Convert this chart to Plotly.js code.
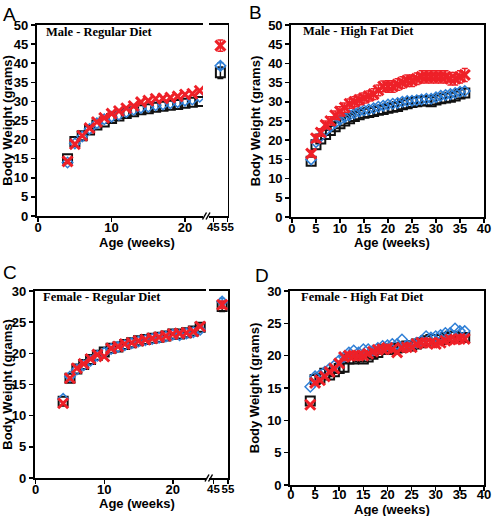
<!DOCTYPE html>
<html>
<head>
<meta charset="utf-8">
<script src="https://cdn.plot.ly/plotly-3.0.1.min.js"></script>
<style>html,body{margin:0;padding:0;background:#fff;}#chart{width:494px;height:516px;}</style>
</head>
<body>
<div id="chart"></div>
<script>
// ---------- DATA ----------
// Panel A: Male - Regular Diet (weeks 4-22, plus one late point)
const weeksA = [4,5,6,7,8,9,10,11,12,13,14,15,16,17,18,19,20,21,22];
const blackA = [15.0,19.5,21.0,22.5,23.8,24.6,25.5,26.2,26.8,27.3,27.8,28.1,28.5,28.7,29.0,29.2,29.5,29.8,30.0];
const blueA  = [14.0,19.0,20.8,22.8,24.3,25.3,26.0,26.5,27.2,27.8,28.3,28.6,29.0,29.2,29.5,29.8,30.2,30.5,31.2];
const redA   = [14.3,18.8,21.0,23.0,24.6,25.7,26.8,27.5,28.2,28.8,29.8,30.2,30.7,30.8,31.0,31.3,31.8,32.0,32.8];
const lateWeekA = [50];
const lateBlackA = [37.5], lateBlackErrA = [1.5];
const lateBlueA  = [39.3], lateBlueErrA  = [0.8];
const lateRedA   = [44.6], lateRedErrA   = [1.5];

// Panel B: Male - High Fat Diet (weeks 4-36)
const weeksB = [4,5,6,7,8,9,10,11,12,13,14,15,16,17,18,19,20,21,22,23,24,25,26,27,28,29,30,31,32,33,34,35,36];
const blackB = [14.5,18.8,20.3,21.5,22.5,23.5,24.3,25.0,25.6,26.2,26.6,27.0,27.2,27.5,27.8,28.0,28.3,28.6,28.8,29.2,29.5,29.8,30.0,30.2,30.3,30.0,30.5,30.8,31.0,31.2,31.5,32.0,32.3];
const blueB  = [15.0,19.5,21.0,22.5,23.5,24.5,25.3,26.0,26.5,27.0,27.5,27.8,28.0,28.3,28.7,29.0,29.3,29.5,29.7,30.0,30.2,30.3,30.4,30.6,30.8,30.8,31.2,31.6,31.8,32.0,32.3,32.6,32.8];
const redB   = [16.5,20.5,22.0,24.0,25.0,26.5,27.5,28.5,29.5,30.0,30.5,31.0,31.5,32.0,33.0,34.0,34.0,34.0,34.5,35.0,35.5,35.5,36.0,36.5,36.5,36.5,36.5,36.5,36.5,36.0,36.0,36.5,37.0];
const redErrB = [0.8,1.0,1.0,1.0,1.1,1.1,1.2,1.2,1.2,1.3,1.3,1.3,1.3,1.4,1.4,1.4,1.5,1.5,1.5,1.5,1.5,1.5,1.5,1.6,1.6,1.6,1.6,1.6,1.6,1.6,1.6,1.6,1.7];

// Panel C: Female - Regular Diet (weeks 4-24, plus one late point)
const weeksC = [4,5,6,7,8,9,10,11,12,13,14,15,16,17,18,19,20,21,22,23,24];
const blackC = [12.3,16.0,17.5,18.2,19.0,19.7,20.2,20.8,21.0,21.4,21.7,22.0,22.2,22.4,22.6,22.8,23.1,23.1,23.3,23.6,24.2];
const blueC  = [12.7,16.3,17.4,18.1,18.8,19.6,20.1,20.7,21.0,21.3,21.6,21.9,22.1,22.3,22.5,22.7,23.0,22.9,23.2,23.4,23.8];
const redC   = [12.0,16.0,17.6,18.3,19.1,19.8,19.5,20.8,21.1,21.5,21.7,22.0,22.2,22.4,22.6,22.8,23.1,23.2,23.3,23.5,24.3];
const lateWeekC = [51];
const lateBlackC = [27.5], lateBlackErrC = [0.8];
const lateBlueC  = [28.3], lateBlueErrC  = [0.5];
const lateRedC   = [27.8], lateRedErrC   = [0.6];

// Panel D: Female - High Fat Diet (weeks 4-36)
const weeksD = [4,5,6,7,8,9,10,11,12,13,14,15,16,17,18,19,20,21,22,23,24,25,26,27,28,29,30,31,32,33,34,35,36];
const blackD = [13.0,16.3,16.5,17.3,17.0,17.5,18.0,18.2,19.5,19.5,19.8,19.5,19.8,20.2,20.5,21.0,21.0,21.0,21.2,21.3,21.5,21.5,21.8,22.0,22.3,22.5,22.5,22.5,22.8,23.0,23.0,22.8,22.8];
const blueD  = [15.2,16.8,17.0,17.5,18.0,18.5,19.3,19.8,20.5,20.8,20.5,21.0,21.0,20.8,21.2,21.5,21.6,21.8,21.8,22.5,21.6,21.7,22.0,22.3,23.0,22.8,23.0,23.2,23.5,23.5,24.2,23.8,23.8];
const redD   = [12.4,15.8,16.2,16.8,17.5,18.0,18.8,19.8,20.0,20.0,20.0,20.0,20.3,20.6,20.9,21.0,21.2,21.0,20.5,21.2,21.3,21.3,21.8,22.0,22.0,22.0,21.8,22.0,22.3,22.5,22.5,22.6,22.6];

// Tick labels / titles
const panelLetters = ['A','B','C','D'];
const panelTitles = ['Male - Regular Diet','Male - High Fat Diet','Female - Regular Diet','Female - High Fat Diet'];
const xTitle = 'Age (weeks)';
const yTitle = 'Body Weight (grams)';
const xTicksRegular = [0,10,20];
const xTicksLate = [45,55];

// ---------- STYLES ----------
const W = 494, H = 516;
const px = v => v / W;
const py = v => 1 - v / H;
const BLACK = '#111111', BLUE = '#2f7fd6', RED = '#ee2028';
const SANS = 'Arial, "Liberation Sans", sans-serif';
const SERIF = '"Times New Roman", "Liberation Serif", serif';

function tr(x, y, xa, ya, kind, err) {
  const st = {
    black: {symbol:'square-open', size:9, color:BLACK, lw:2},
    blue:  {symbol:'diamond-open', size:8, color:BLUE, lw:1.5},
    red:   {symbol:'x-thin-open', size:10, color:RED, lw:3}
  }[kind];
  const t = {
    type:'scatter', mode:'markers', x:x, y:y, xaxis:xa, yaxis:ya, showlegend:false,
    hoverinfo:'skip',
    marker:{symbol:st.symbol, size:st.size, color:st.color, line:{color:st.color, width:st.lw}}
  };
  if (err) t.error_y = {type:'data', array:err, visible:true, color:st.color, thickness:1.5, width:3};
  return t;
}

const traces = [
  tr(weeksA, blackA, 'x', 'y', 'black'),
  tr(weeksA, blueA, 'x', 'y', 'blue'),
  tr(weeksA, redA, 'x', 'y', 'red'),
  tr(lateWeekA, lateBlackA, 'x2', 'y2', 'black', lateBlackErrA),
  tr(lateWeekA, lateBlueA, 'x2', 'y2', 'blue', lateBlueErrA),
  tr(lateWeekA, lateRedA, 'x2', 'y2', 'red', lateRedErrA),

  tr(weeksB, blackB, 'x3', 'y3', 'black'),
  tr(weeksB, blueB, 'x3', 'y3', 'blue'),
  tr(weeksB, redB, 'x3', 'y3', 'red', redErrB),

  tr(weeksC, blackC, 'x4', 'y4', 'black'),
  tr(weeksC, blueC, 'x4', 'y4', 'blue'),
  tr(weeksC, redC, 'x4', 'y4', 'red'),
  tr(lateWeekC, lateBlackC, 'x5', 'y5', 'black', lateBlackErrC),
  tr(lateWeekC, lateBlueC, 'x5', 'y5', 'blue', lateBlueErrC),
  tr(lateWeekC, lateRedC, 'x5', 'y5', 'red', lateRedErrC),

  tr(weeksD, blackD, 'x6', 'y6', 'black'),
  tr(weeksD, blueD, 'x6', 'y6', 'blue'),
  tr(weeksD, redD, 'x6', 'y6', 'red')
];

const tickFont = {family:SANS, size:13, color:'#000', weight:'bold'};
const smallTickFont = {family:SANS, size:11.5, color:'#000', weight:'bold'};
const titleFont = {family:SANS, size:13, color:'#000', weight:'bold'};
const axBase = {
  showline:true, linecolor:'#000', linewidth:1.8, ticks:'outside', ticklen:4, tickwidth:1.5,
  tickcolor:'#000', showgrid:false, zeroline:false, tickfont:tickFont, fixedrange:true, automargin:false
};
function ax(extra) { return Object.assign({}, axBase, extra); }
function xax(extra) { return ax(Object.assign({tickangle:0, ticklabelstandoff:-5}, extra)); }

function ann(text, x, y, font, xanchor) {
  return {text:text, x:px(x), y:py(y), xref:'paper', yref:'paper', xanchor:xanchor || 'left',
          yanchor:'middle', showarrow:false, font:font};
}
const letterFont = {family:SANS, size:19, color:'#000'};
const innerFont = {family:SERIF, size:12.5, color:'#000', weight:'bold'};

const layout = {
  width:W, height:H, margin:{l:0,r:0,t:0,b:0}, paper_bgcolor:'#fff', plot_bgcolor:'rgba(0,0,0,0)',
  showlegend:false,
  // Panel A
  xaxis:  xax({domain:[px(36.7), px(203)], range:[-0.2, 22.45], tickvals:xTicksRegular, anchor:'y', mirror:true}),
  xaxis2: xax({domain:[px(209), px(227.5)], range:[42, 55], tickvals:xTicksLate, anchor:'y', mirror:true, tickfont:smallTickFont}),
  yaxis:  ax({domain:[py(216), py(25)], range:[0, 50], dtick:5, anchor:'x',
              title:{text:yTitle, font:titleFont, standoff:4}}),
  yaxis2: ax({domain:[py(216), py(25)], matches:'y', range:[0,50], anchor:'x2', side:'right', ticks:'', showticklabels:false}),
  // Panel B
  xaxis3: xax({domain:[px(291), px(484)], range:[-0.2, 40], dtick:5, anchor:'y3', mirror:true}),
  yaxis3: ax({domain:[py(217), py(25)], range:[0, 50], dtick:5, anchor:'x3', mirror:true,
              title:{text:yTitle, font:titleFont, standoff:4}}),
  // Panel C
  xaxis4: xax({domain:[px(34.7), px(206)], range:[-0.15, 24.85], tickvals:xTicksRegular, anchor:'y4', mirror:true}),
  xaxis5: xax({domain:[px(209), px(228)], range:[42, 55], tickvals:xTicksLate, anchor:'y4', mirror:true, tickfont:smallTickFont}),
  yaxis4: ax({domain:[py(478), py(291)], range:[0, 30], dtick:5, anchor:'x4',
              title:{text:yTitle, font:titleFont, standoff:4}}),
  yaxis5: ax({domain:[py(478), py(291)], matches:'y4', range:[0,30], anchor:'x5', side:'right', ticks:'', showticklabels:false}),
  // Panel D
  xaxis6: xax({domain:[px(290), px(484)], range:[-0.2, 40], dtick:5, anchor:'y6', mirror:true, ticklabelstandoff:-7}),
  yaxis6: ax({domain:[py(485), py(291)], range:[0, 30], dtick:5, anchor:'x6', mirror:true,
              title:{text:yTitle, font:titleFont, standoff:4}}),
  annotations: [
    ann(panelLetters[0], 1, 14, letterFont),
    ann(panelLetters[1], 247, 12, letterFont),
    ann(panelLetters[2], 1, 272, letterFont),
    ann(panelLetters[3], 253, 275, letterFont),
    ann(panelTitles[0], 44, 32, innerFont),
    ann(panelTitles[1], 301, 31, innerFont),
    ann(panelTitles[2], 41, 297, innerFont),
    ann(panelTitles[3], 299, 297, innerFont),
    ann(xTitle, 137, 243, titleFont, 'center'),
    ann(xTitle, 392, 243, titleFont, 'center'),
    ann(xTitle, 137, 503, titleFont, 'center'),
    ann(xTitle, 392, 509, titleFont, 'center')
  ],
  shapes: [
    // axis break marks (//)
    {type:'line', xref:'paper', yref:'paper', x0:px(202.5), y0:py(219.5), x1:px(206.5), y1:py(212.5), line:{color:'#000', width:1.5}},
    {type:'line', xref:'paper', yref:'paper', x0:px(206), y0:py(219.5), x1:px(210), y1:py(212.5), line:{color:'#000', width:1.5}},
    {type:'line', xref:'paper', yref:'paper', x0:px(205), y0:py(481.5), x1:px(209), y1:py(474.5), line:{color:'#000', width:1.5}},
    {type:'line', xref:'paper', yref:'paper', x0:px(208.5), y0:py(481.5), x1:px(212.5), y1:py(474.5), line:{color:'#000', width:1.5}}
  ]
};

Plotly.newPlot('chart', traces, layout, {staticPlot:true, displayModeBar:false});
</script>
</body>
</html>
